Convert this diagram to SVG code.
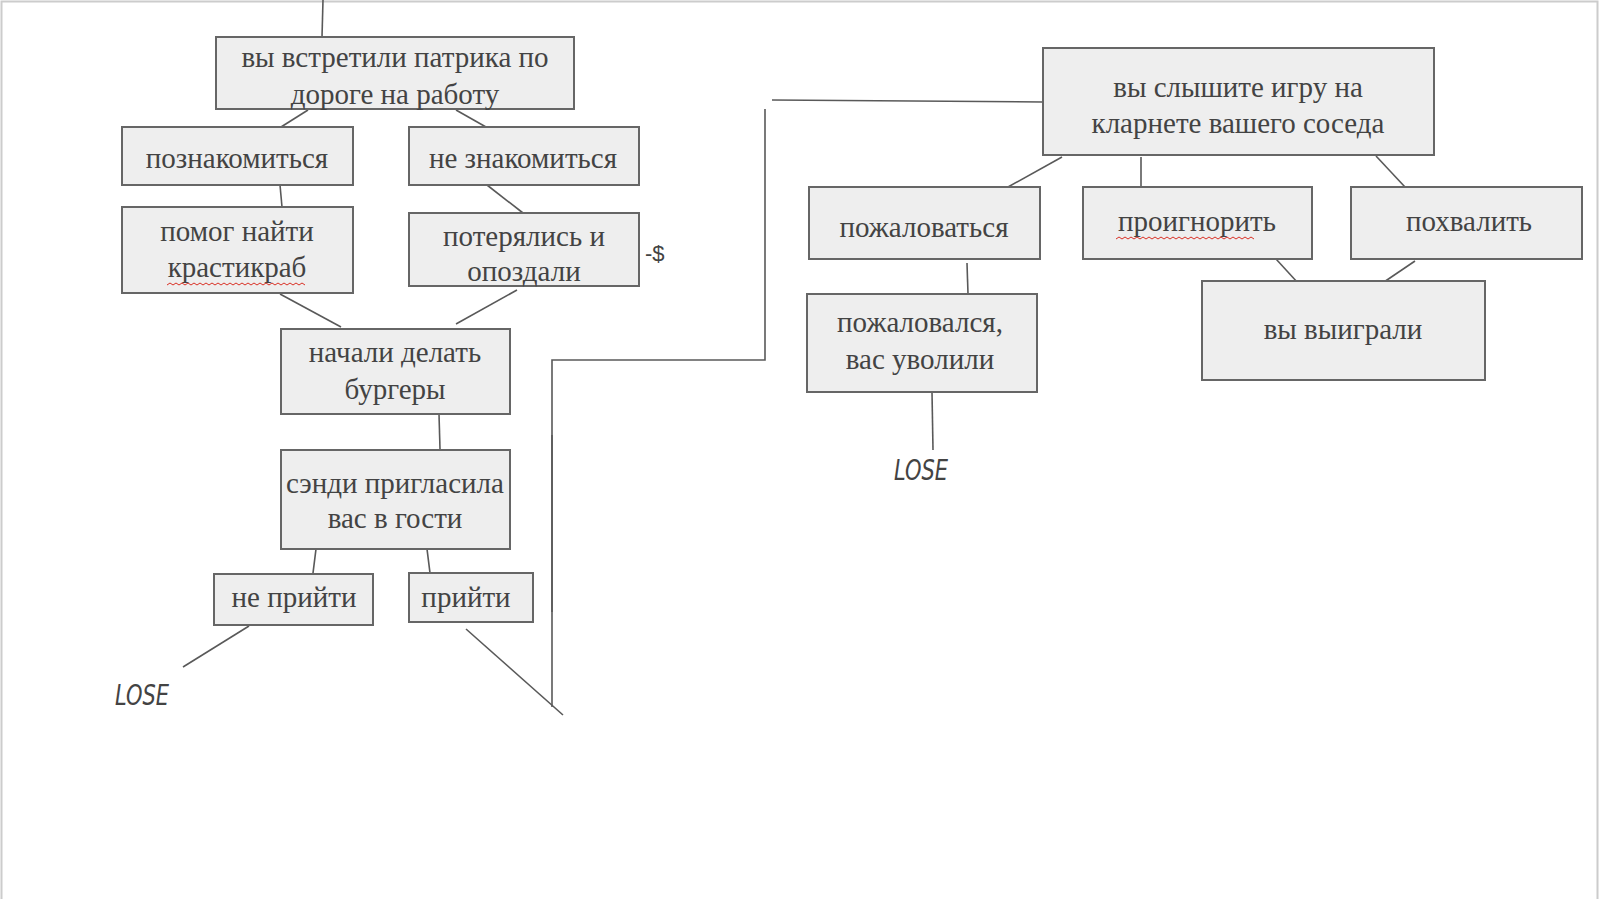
<svg xmlns="http://www.w3.org/2000/svg" width="1600" height="899" viewBox="0 0 1600 899">
<defs>
<style>
.box{fill:#eeeeee;stroke:#666666;stroke-width:2}
.t{font-family:"Liberation Serif","DejaVu Serif",serif;font-size:29px;fill:#434343;text-anchor:middle}
.c{stroke:#595959;stroke-width:1.6;fill:none}
.lose{font-family:"Liberation Sans Narrow","DejaVu Sans Condensed",sans-serif;font-style:italic;font-size:28px;fill:#434343}
.wavy{stroke:#d93025;stroke-width:1;fill:none}
</style>
</defs>
<rect width="1600" height="899" fill="#ffffff"/>
<path d="M1.5,899 V1.5 H1597.5 V899" fill="none" stroke="#cccccc" stroke-width="2"/>

<g id="connectors">
<line class="c" x1="323" y1="0" x2="322" y2="37"/>
<line class="c" x1="308" y1="110" x2="281" y2="127"/>
<line class="c" x1="456" y1="110" x2="486" y2="127"/>
<line class="c" x1="280" y1="185" x2="282" y2="207"/>
<line class="c" x1="487" y1="185" x2="523" y2="213"/>
<line class="c" x1="280" y1="294" x2="341" y2="327"/>
<line class="c" x1="517" y1="290" x2="456" y2="324"/>
<line class="c" x1="439" y1="414" x2="440" y2="449"/>
<line class="c" x1="316" y1="549" x2="313" y2="573"/>
<line class="c" x1="427" y1="549" x2="430" y2="573"/>
<line class="c" x1="249" y1="626" x2="183" y2="667"/>
<line class="c" x1="466" y1="629" x2="563" y2="715"/>
<path class="c" d="M552,707 V360 H765 V109"/>
<line class="c" x1="552" y1="435" x2="552" y2="612" stroke-width="3"/>
<line class="c" x1="772" y1="100" x2="1043" y2="102"/>
<line class="c" x1="1062" y1="157" x2="1008" y2="187"/>
<line class="c" x1="1141" y1="157" x2="1141" y2="187"/>
<line class="c" x1="1376" y1="156" x2="1405" y2="187"/>
<line class="c" x1="967" y1="263" x2="968" y2="294"/>
<line class="c" x1="932" y1="392" x2="933" y2="450"/>
<line class="c" x1="1276" y1="259" x2="1298" y2="283"/>
<line class="c" x1="1415" y1="261" x2="1384" y2="282"/>
</g>

<g id="n-meet">
<rect class="box" x="216" y="37" width="358" height="72"/>
<text class="t" x="395" y="67">вы встретили патрика по</text>
<text class="t" x="395" y="104">дороге на работу</text>
</g>
<g id="n-know">
<rect class="box" x="122" y="127" width="231" height="58"/>
<text class="t" x="237" y="168">познакомиться</text>
</g>
<g id="n-notknow">
<rect class="box" x="409" y="127" width="230" height="58"/>
<text class="t" x="523" y="168">не знакомиться</text>
</g>
<g id="n-helped">
<rect class="box" x="122" y="207" width="231" height="86"/>
<text class="t" x="237" y="241">помог найти</text>
<text class="t" x="237" y="277">крастикраб</text>
<path class="wavy" d="M167,285 l3,-2 l3,2 l3,-2 l3,2 l3,-2 l3,2 l3,-2 l3,2 l3,-2 l3,2 l3,-2 l3,2 l3,-2 l3,2 l3,-2 l3,2 l3,-2 l3,2 l3,-2 l3,2 l3,-2 l3,2 l3,-2 l3,2 l3,-2 l3,2 l3,-2 l3,2 l3,-2 l3,2 l3,-2 l3,2 l3,-2 l3,2 l3,-2 l3,2 l3,-2 l3,2 l3,-2 l3,2 l3,-2 l3,2 l3,-2 l3,2 l3,-2 l3,2"/>
</g>
<g id="n-lost">
<rect class="box" x="409" y="213" width="230" height="73"/>
<text class="t" x="524" y="246">потерялись и</text>
<text class="t" x="524" y="281">опоздали</text>
</g>
<text x="645" y="261" font-family="Liberation Sans, Arial, sans-serif" font-size="22" fill="#434343">-$</text>
<g id="n-burgers">
<rect class="box" x="281" y="329" width="229" height="85"/>
<text class="t" x="395" y="362">начали делать</text>
<text class="t" x="395" y="399">бургеры</text>
</g>
<g id="n-sandy">
<rect class="box" x="281" y="450" width="229" height="99"/>
<text class="t" x="395" y="493">сэнди пригласила</text>
<text class="t" x="395" y="528">вас в гости</text>
</g>
<g id="n-notcome">
<rect class="box" x="214" y="574" width="159" height="51"/>
<text class="t" x="294" y="607">не прийти</text>
</g>
<g id="n-come">
<rect class="box" x="409" y="573" width="124" height="49"/>
<text class="t" x="466" y="607">прийти</text>
</g>
<text class="lose" x="115" y="705" textLength="54" lengthAdjust="spacingAndGlyphs">LOSE</text>

<g id="n-clarinet">
<rect class="box" x="1043" y="48" width="391" height="107"/>
<text class="t" x="1238" y="97">вы слышите игру на</text>
<text class="t" x="1238" y="133">кларнете вашего соседа</text>
</g>
<g id="n-complain">
<rect class="box" x="809" y="187" width="231" height="72"/>
<text class="t" x="924" y="237">пожаловаться</text>
</g>
<g id="n-ignore">
<rect class="box" x="1083" y="187" width="229" height="72"/>
<text class="t" x="1197" y="231">проигнорить</text>
<path class="wavy" d="M1116,239 l3,-2 l3,2 l3,-2 l3,2 l3,-2 l3,2 l3,-2 l3,2 l3,-2 l3,2 l3,-2 l3,2 l3,-2 l3,2 l3,-2 l3,2 l3,-2 l3,2 l3,-2 l3,2 l3,-2 l3,2 l3,-2 l3,2 l3,-2 l3,2 l3,-2 l3,2 l3,-2 l3,2 l3,-2 l3,2 l3,-2 l3,2 l3,-2 l3,2 l3,-2 l3,2 l3,-2 l3,2 l3,-2 l3,2 l3,-2 l3,2 l3,-2 l3,2"/>
</g>
<g id="n-praise">
<rect class="box" x="1351" y="187" width="231" height="72"/>
<text class="t" x="1469" y="231">похвалить</text>
</g>
<g id="n-fired">
<rect class="box" x="807" y="294" width="230" height="98"/>
<text class="t" x="920" y="332">пожаловался,</text>
<text class="t" x="920" y="369">вас уволили</text>
</g>
<text class="lose" x="894" y="480" textLength="54" lengthAdjust="spacingAndGlyphs">LOSE</text>
<g id="n-won">
<rect class="box" x="1202" y="281" width="283" height="99"/>
<text class="t" x="1343" y="339">вы выиграли</text>
</g>
</svg>
